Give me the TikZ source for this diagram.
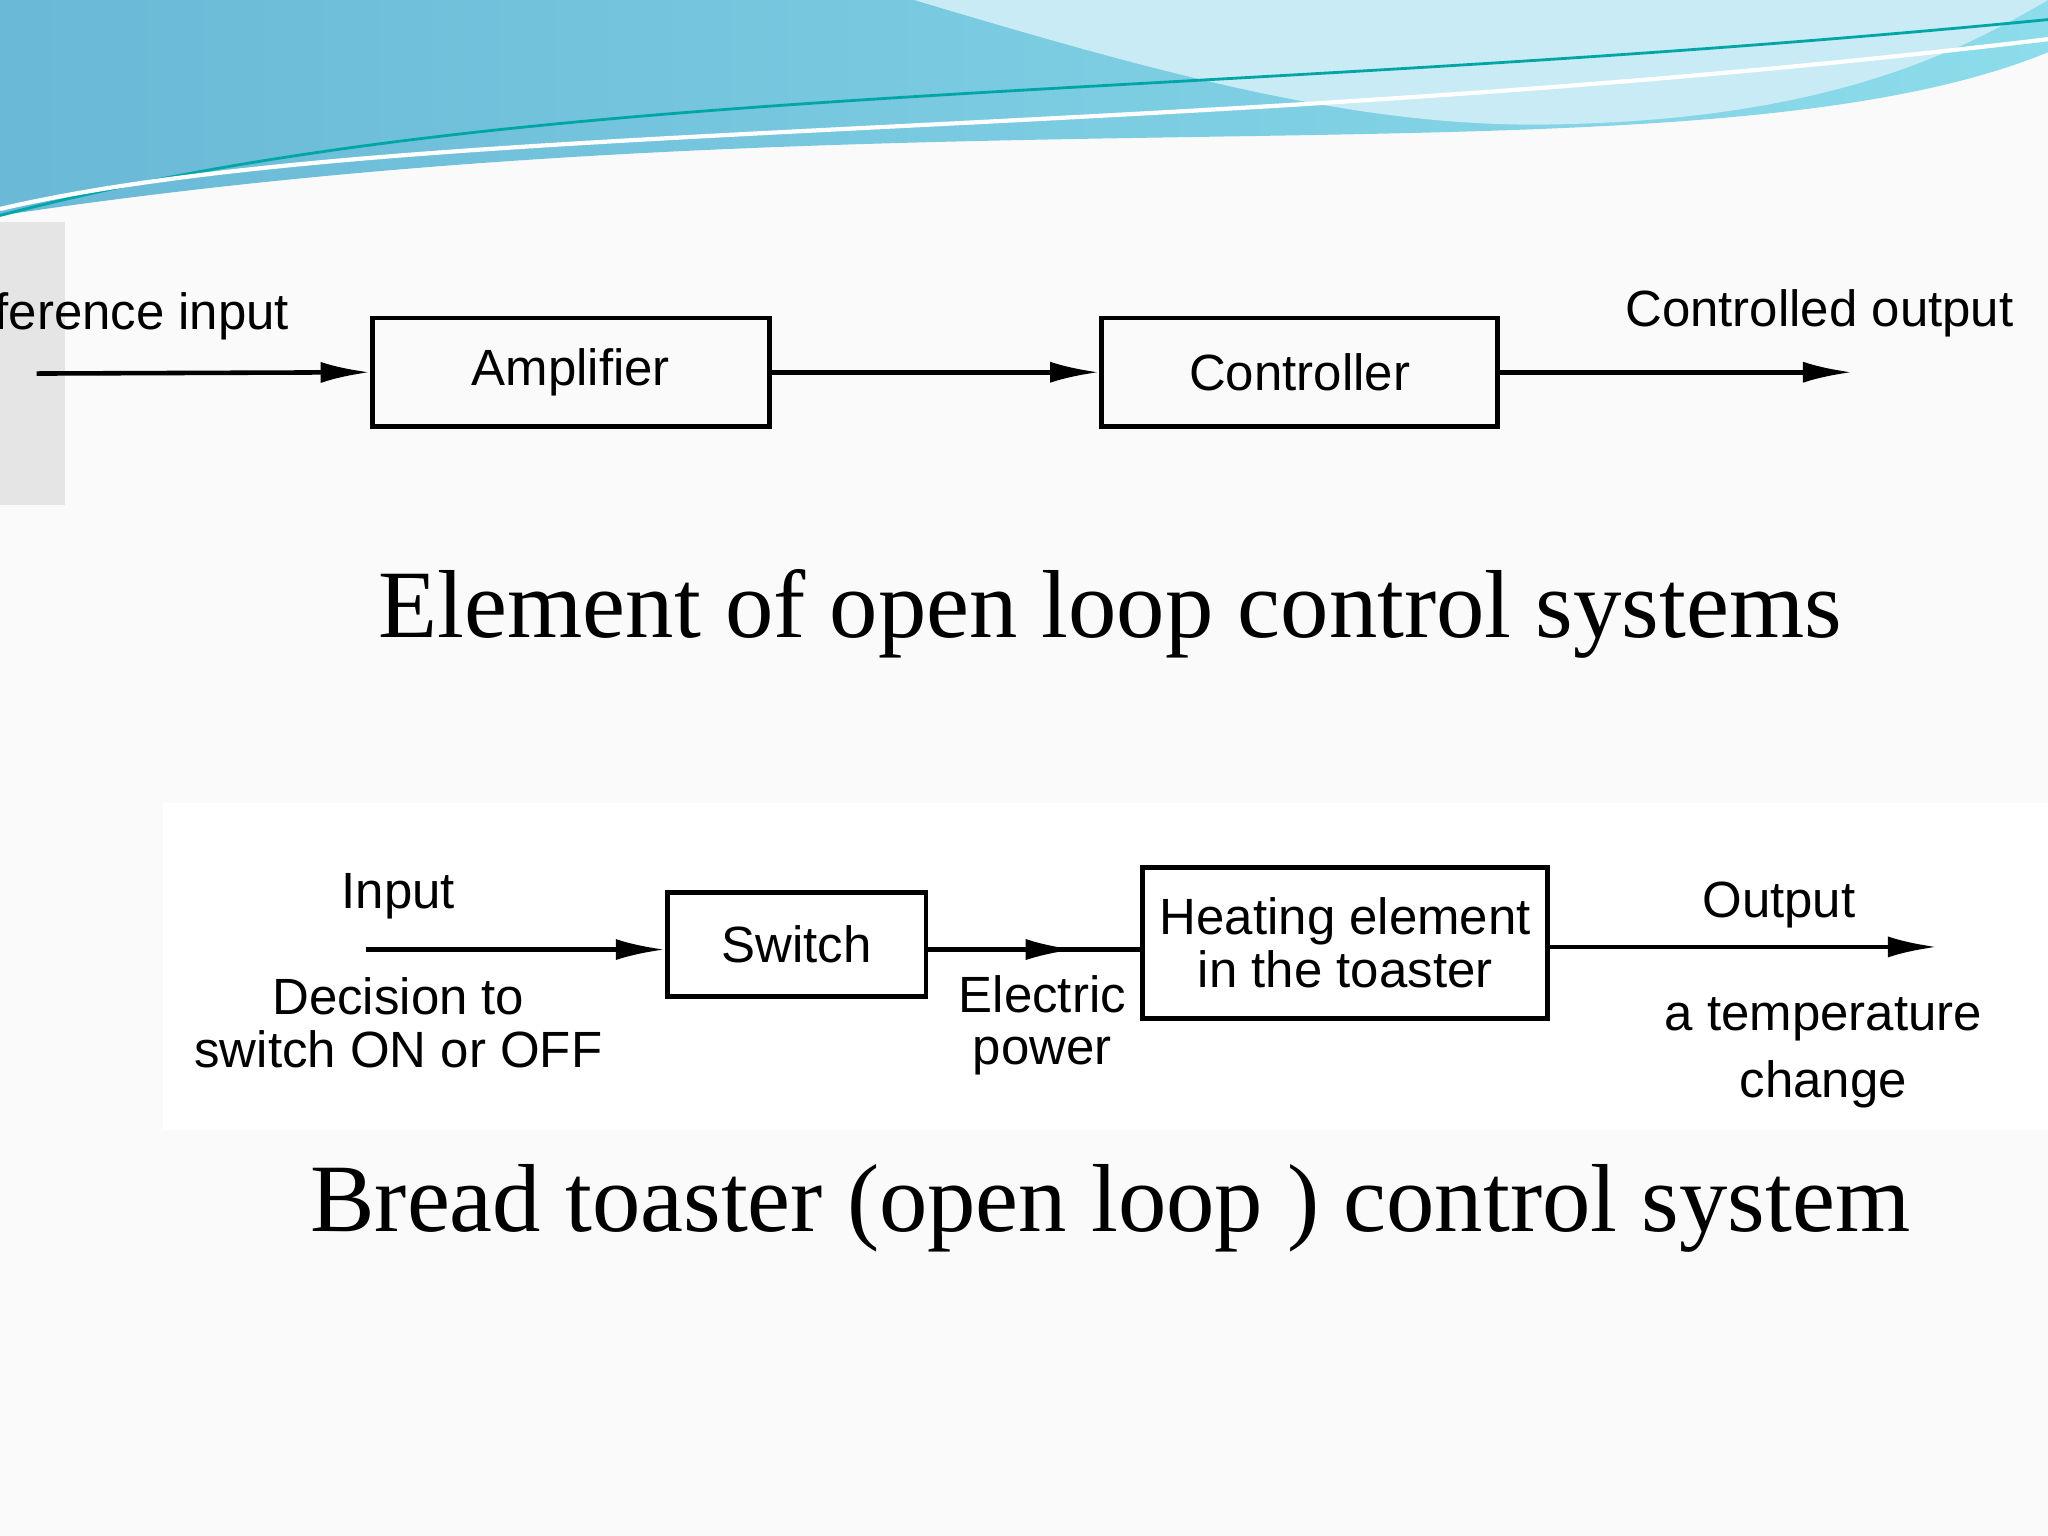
\documentclass[tikz,border=0pt]{standalone}
\usepackage{fontspec}
\setmainfont{Liberation Serif}
\newfontfamily\sansf{Liberation Sans}
\usetikzlibrary{arrows.meta}
\definecolor{bA}{RGB}{105,185,215}
\definecolor{bB}{RGB}{140,220,235}
\definecolor{bC}{RGB}{200,235,245}
\begin{document}
\begin{tikzpicture}[x=0.013061cm,y=-0.013061cm,
  blk/.style={draw,line width=1.4pt,inner sep=0pt,font=\sansf\fontsize{14.5}{17}\selectfont,align=center},
  lbl/.style={font=\sansf\fontsize{14.5}{17}\selectfont,align=center,inner sep=0pt},
  arr/.style={line width=1.3pt,-{Latex[length=14pt,width=6pt]}},
  ttl/.style={font=\fontsize{27.5}{32}\selectfont,inner sep=0pt}]
\useasboundingbox (0,0) rectangle (1568,1176);
\fill[gray!4] (0,0) rectangle (1568,1176);
% banner
\shade[left color=bA,right color=bB] (0,0) -- (1568,0) -- (1568,40) .. controls (1300,150) and (700,60) .. (0,165) -- cycle;
\fill[bC] (700,0) .. controls (900,60) and (1050,100) .. (1200,95) .. controls (1400,90) and (1500,40) .. (1568,0) -- cycle;
\draw[teal!70!cyan,line width=0.8pt] (0,165) .. controls (400,60) and (900,80) .. (1568,15);
\draw[white,line width=1.2pt] (0,160) .. controls (300,90) and (900,110) .. (1568,30);
% scan strip
\fill[gray!20] (0,170) rectangle (50,387);
% top diagram
\node[lbl,anchor=east] (ri) at (222,242) {ference input};
\coordinate (s1) at (28,286);
\node[blk,minimum height=1.084cm,minimum width=3.97cm] (amp) at (437,285) {Amplifier};
\node[blk,minimum height=1.084cm,minimum width=3.958cm] (ctl) at (995,285) {Controller};
\coordinate (e1) at (1418,285);
\node[lbl] (co) at (1393,240) {Controlled output};
\draw[arr] (s1) -- (amp.west);
\draw[arr] (amp.east) -- (ctl.west);
\draw[arr] (ctl.east) -- (e1);
\node[ttl] (t1) at (850,470) {Element of open loop control systems};
% bottom diagram
\fill[white] (125,615) rectangle (1568,865);
\node[lbl] (in) at (305,686) {Input};
\coordinate (s2) at (280,727);
\node[blk,minimum height=1.045cm,minimum width=2.586cm] (sw) at (610,723) {Switch};
\node[blk,minimum height=1.515cm,minimum width=4.049cm] (he) at (1030,722) {Heating element\\[-2pt]in the toaster};
\coordinate (m2) at (823,727);
\coordinate (e2) at (1483,725);
\draw[arr] (s2) -- (s2 -| sw.west);
\draw[line width=1.3pt] (sw.east |- m2) -- (m2 -| he.west);
\draw[arr] (sw.east |- m2) -- (m2);
\draw[arr] (he.east |- e2) -- (e2);
\node[lbl] (dec) at (305,783) {Decision to\\[-2pt]switch ON or OFF};
\node[lbl] (ep) at (798,785) {Electric\\[-2pt]power};
\node[lbl] (out) at (1362,693) {Output};
\node[lbl] (tc) at (1396,806) {a temperature\\[2pt]change};
\node[ttl] (t2) at (850,925) {Bread toaster (open loop ) control system};
\end{tikzpicture}
\end{document}
